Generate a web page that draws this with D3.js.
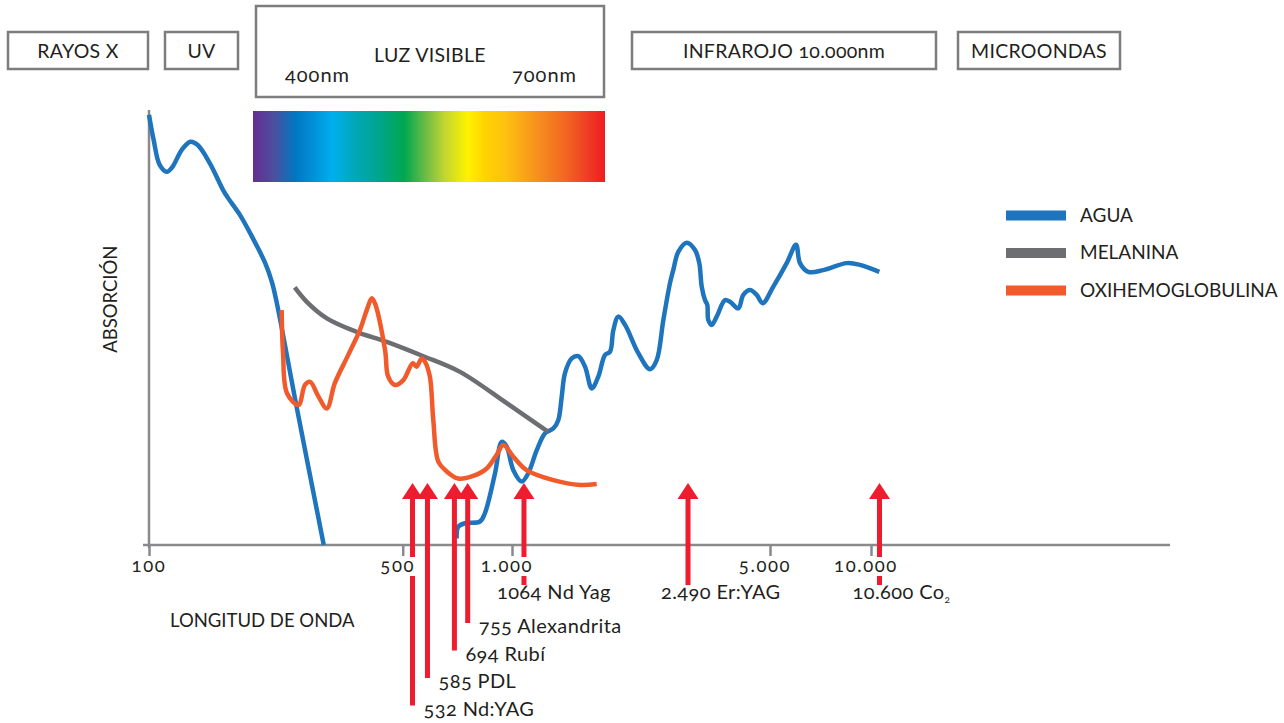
<!DOCTYPE html>
<html>
<head>
<meta charset="utf-8">
<script src="https://cdn.jsdelivr.net/npm/d3@7"></script>
<style>
  body { margin: 0; background: #fff; }
  svg text { font-family: Lato, "Open Sans", sans-serif; fill: #231f20; }
  .num { font-variant-numeric: oldstyle-nums; }
</style>
</head>
<body>
<div id="chart"></div>
<script>
// Bands of the electromagnetic spectrum shown as boxes on top
const bands = ["RAYOS X", "UV", "LUZ VISIBLE", "INFRAROJO 10.000nm", "MICROONDAS"];

// Absorption curves: [wavelength nm, relative absorption 0-100]
const aguaUV = [
  [100, 98.9], [103, 93.1], [107, 87.4], [112, 85.8], [116, 86.9], [123, 90.8],
  [130, 92.7], [136, 92.0], [147, 87.8], [160, 81.6], [165, 79.8], [178, 75.9],
  [193, 70.6], [209, 64.8], [218, 60.5], [225, 55.6], [255, 31.8], [303, 0]
];
const aguaIR = [
  [704, 1.5], [711, 4.2], [742, 5.0], [816, 5.4], [842, 7.3], [898, 16.5],
  [937, 23.7], [967, 22.6], [1007, 17.2], [1052, 14.6], [1088, 16.5], [1137, 21.8],
  [1187, 25.7], [1239, 26.8], [1271, 28.7], [1294, 34.1], [1316, 39.5], [1363, 42.9],
  [1410, 43.4], [1460, 41.0], [1512, 36.0], [1564, 38.7], [1620, 43.7], [1662, 44.4],
  [1691, 49.4], [1735, 52.5], [1797, 50.6], [1925, 44.1], [2045, 40.4], [2117, 42.5],
  [2191, 51.7], [2268, 60.2], [2307, 63.2], [2368, 67.4], [2474, 69.5], [2643, 67.8],
  [2741, 64.8], [2798, 59.4], [2877, 56.3], [2934, 55.2], [2959, 51.7], [3046, 50.6],
  [3178, 52.5], [3410, 56.3], [3558, 55.9], [3819, 54.4], [3985, 57.5], [4219, 58.6],
  [4466, 57.5], [4700, 55.6], [5115, 59.4], [5607, 64.8], [5977, 69.0], [6143, 64.8],
  [6503, 62.8], [7208, 63.2], [8465, 64.8], [9273, 64.4], [10587, 62.8]
];
const melanina = [
  [252, 59.2], [272, 55.9], [309, 52.1], [373, 49.0], [452, 46.7], [570, 43.4],
  [719, 39.8], [967, 32.6], [1207, 26.0]
];
const oxihemoglobina = [
  [232, 54.0], [234, 44.1], [240, 34.9], [258, 32.2], [269, 36.8], [278, 37.5],
  [293, 34.1], [309, 31.4], [325, 37.2], [354, 43.7], [381, 49.4], [398, 54.0],
  [411, 56.7], [419, 55.6], [447, 44.8], [456, 38.7], [476, 36.8], [502, 37.9],
  [533, 41.8], [546, 41.0], [564, 42.9], [576, 42.1], [594, 38.7], [607, 28.7],
  [627, 19.1], [661, 16.9], [711, 15.3], [782, 15.9], [852, 17.6], [907, 20.7],
  [946, 23.0], [1007, 20.3], [1079, 17.2], [1239, 14.9], [1423, 13.8], [1551, 14.0]
];

const seriesNames = ["AGUA", "MELANINA", "OXIHEMOGLOBULINA"];

// Lasers and their wavelengths
const laserNm = [532, 585, 694, 755, 1064, 2490, 10600];
const laserLabels = ["532 Nd:YAG", "585 PDL", "694 Rubí", "755 Alexandrita", "1064 Nd Yag", "2.490 Er:YAG", "10.600 Co"];
const laserSubs = ["", "", "", "", "", "", "2"];

// Axis
const tickValues = [100, 500, 1000, 5000, 10000];

class AbsorptionChart {
  constructor(_config) {
    this.config = {
      parentElement: _config.parentElement,
      containerWidth: 1284,
      containerHeight: 723,
      colors: ["#1f75bd", "#6d6e71", "#f15a2b"],
      laserColor: "#ed1c2e",
      axisColor: "#8a8a8c",
    };
    this.initVis();
  }

  initVis() {
    let vis = this;

    vis.svg = d3
      .select(vis.config.parentElement)
      .append("svg")
      .attr("width", vis.config.containerWidth)
      .attr("height", vis.config.containerHeight);

    // Wavelength axis is drawn schematically: log steps with its own spacing per decade
    vis.xScale = d3
      .scaleLog()
      .domain([100, 1000, 2490, 5000, 10000])
      .range([149, 512, 688, 770, 871]);

    vis.yScale = d3.scaleLinear().domain([0, 100]).range([545, 110]);

    // Spanish number format (1.000, 10.000)
    vis.format = d3
      .formatLocale({ decimal: ",", thousands: ".", grouping: [3], currency: ["", ""] })
      .format(",");

    vis.renderVis();
  }

  renderVis() {
    let vis = this;

    // Spectrum band boxes at the top
    const boxes = [
      { x0: 8, x1: 148, y0: 32, y1: 69 },
      { x0: 165, x1: 238, y0: 32, y1: 69 },
      { x0: 256, x1: 604, y0: 6, y1: 97 },
      { x0: 632, x1: 936, y0: 32, y1: 69 },
      { x0: 958, x1: 1120, y0: 32, y1: 69 },
    ];
    const boxGroups = vis.svg
      .selectAll(".band")
      .data(bands)
      .join("g")
      .attr("class", "band");
    boxGroups
      .append("rect")
      .attr("x", (d, i) => boxes[i].x0)
      .attr("y", (d, i) => boxes[i].y0)
      .attr("width", (d, i) => boxes[i].x1 - boxes[i].x0)
      .attr("height", (d, i) => boxes[i].y1 - boxes[i].y0)
      .attr("fill", "#fff")
      .attr("stroke", "#7d7d7f")
      .attr("stroke-width", 2.5);
    boxGroups
      .append("text")
      .attr("class", "num")
      .attr("x", (d, i) => (boxes[i].x0 + boxes[i].x1) / 2)
      .attr("y", (d, i) => (i === 2 ? 61.5 : 58))
      .attr("text-anchor", "middle")
      .style("font-size", "19.5px")
      .style("letter-spacing", "0.3px")
      .text((d) => d);

    // 400nm / 700nm marks inside the visible light box
    vis.svg
      .append("text")
      .attr("class", "num")
      .attr("x", 285)
      .attr("y", 82)
      .style("font-size", "20px")
      .style("letter-spacing", "1px")
      .text("400nm");
    vis.svg
      .append("text")
      .attr("class", "num")
      .attr("x", 577)
      .attr("y", 82)
      .attr("text-anchor", "end")
      .style("font-size", "20px")
      .style("letter-spacing", "1px")
      .text("700nm");

    // Colour strip of visible light
    const spectrumStops = [
      [0, "#662d91"], [0.06, "#4b4f9f"], [0.12, "#0077c0"], [0.17, "#0090d8"],
      [0.225, "#00aeef"], [0.29, "#00a8b8"], [0.36, "#00a48a"], [0.43, "#00a84f"],
      [0.49, "#6dbb45"], [0.545, "#c2d62f"], [0.61, "#fff200"], [0.66, "#ffd200"],
      [0.72, "#fdc010"], [0.8, "#f7941d"], [0.89, "#f26522"], [1, "#ed1c24"],
    ];
    const grad = vis.svg
      .append("defs")
      .append("linearGradient")
      .attr("id", "spectrum")
      .attr("x1", "0%")
      .attr("x2", "100%");
    grad
      .selectAll("stop")
      .data(spectrumStops)
      .join("stop")
      .attr("offset", (d) => d[0])
      .attr("stop-color", (d) => d[1]);
    vis.svg
      .append("rect")
      .attr("x", 253)
      .attr("y", 111)
      .attr("width", 352)
      .attr("height", 71)
      .attr("fill", "url(#spectrum)");

    // Axes lines
    vis.svg
      .append("line")
      .attr("x1", 143)
      .attr("x2", 1170)
      .attr("y1", vis.yScale(0))
      .attr("y2", vis.yScale(0))
      .attr("stroke", vis.config.axisColor)
      .attr("stroke-width", 2.5);
    vis.svg
      .append("line")
      .attr("x1", vis.xScale(100))
      .attr("x2", vis.xScale(100))
      .attr("y1", 110)
      .attr("y2", vis.yScale(0) + 3)
      .attr("stroke", vis.config.axisColor)
      .attr("stroke-width", 2.5);

    // Tick marks
    const xAxis = d3
      .axisBottom(vis.xScale)
      .tickValues(tickValues)
      .tickSize(11)
      .tickFormat("");
    const axisG = vis.svg
      .append("g")
      .attr("transform", `translate(0,${vis.yScale(0)})`)
      .call(xAxis);
    axisG.select(".domain").remove();
    axisG.selectAll(".tick line").attr("stroke", vis.config.axisColor).attr("stroke-width", 2.5);

    // Curves
    const line = d3
      .line()
      .x((d) => vis.xScale(d[0]))
      .y((d) => vis.yScale(d[1]))
      .curve(d3.curveCatmullRom.alpha(0.5));
    const curves = [
      [aguaUV, 0], [aguaIR, 0], [melanina, 1], [oxihemoglobina, 2],
    ];
    vis.svg
      .selectAll(".curve")
      .data(curves)
      .join("path")
      .attr("class", "curve")
      .attr("d", (d) => line(d[0]))
      .attr("fill", "none")
      .attr("stroke", (d) => vis.config.colors[d[1]])
      .attr("stroke-width", 4.5)
      .attr("stroke-linejoin", "round")
      .attr("stroke-linecap", "butt");

    // Laser arrows, labels of the crowded ones are stacked on rows
    const laserRow = [4, 3, 2, 1, 0, 0, 0];
    const tipY = 483;
    const headH = 16;
    const headW = 21;
    const shaftEnd = (r) => (r === 0 ? 585 : 623 + (r - 1) * 27.5);

    const lasers = vis.svg
      .selectAll(".laser")
      .data(laserNm)
      .join("g")
      .attr("class", "laser")
      .attr("transform", (d) => `translate(${vis.xScale(d)},0)`);
    lasers
      .append("rect")
      .attr("x", -2.5)
      .attr("y", tipY + headH - 1)
      .attr("width", 5)
      .attr("height", (d, i) => shaftEnd(laserRow[i]) - tipY - headH + 1)
      .attr("fill", vis.config.laserColor);
    lasers
      .append("path")
      .attr("d", `M0,${tipY}L${headW / 2},${tipY + headH}L${-headW / 2},${tipY + headH}Z`)
      .attr("fill", vis.config.laserColor);

    const laserText = lasers
      .append("text")
      .attr("class", "num")
      .attr("x", (d, i) => (laserRow[i] === 0 ? -27 : 11))
      .attr("y", (d, i) => (laserRow[i] === 0 ? 599 : shaftEnd(laserRow[i]) + 10))
      .style("font-size", "20px")
      .style("letter-spacing", "0.4px");
    laserText.append("tspan").text((d, i) => laserLabels[i]);
    laserText
      .append("tspan")
      .attr("dy", 4)
      .style("font-size", "10px")
      .text((d, i) => laserSubs[i]);

    // Tick labels with a white knockout above the arrows
    const tickLabels = vis.svg
      .selectAll(".tick-label")
      .data(tickValues)
      .join("g")
      .attr("class", "tick-label")
      .attr("transform", (d, i) => `translate(${vis.xScale(d) - (i === 0 ? 0 : 5)},0)`);
    tickLabels
      .append("text")
      .attr("class", "num")
      .attr("y", 572)
      .attr("text-anchor", "middle")
      .style("font-size", "18.5px")
      .style("letter-spacing", "1.6px")
      .text((d) => vis.format(d));
    tickLabels.each(function () {
      const g = d3.select(this);
      const bb = g.select("text").node().getBBox();
      g.insert("rect", "text")
        .attr("x", bb.x - 3)
        .attr("y", 557)
        .attr("width", bb.width + 6)
        .attr("height", 19)
        .attr("fill", "#fff");
    });

    // Axis titles
    vis.svg
      .append("text")
      .attr("x", 170)
      .attr("y", 627)
      .style("font-size", "18.5px")
      .text("LONGITUD DE ONDA");
    vis.svg
      .append("text")
      .attr("transform", `translate(117,${vis.yScale(56.5)}) rotate(-90)`)
      .attr("text-anchor", "middle")
      .style("font-size", "18.5px")
      .text("ABSORCIÓN");

    // Legend
    const legend = vis.svg
      .selectAll(".legend")
      .data(seriesNames)
      .join("g")
      .attr("class", "legend")
      .attr("transform", (d, i) => `translate(1006,${215.5 + i * 37.5})`);
    legend
      .append("rect")
      .attr("y", -5)
      .attr("width", 60)
      .attr("height", 10)
      .attr("fill", (d, i) => vis.config.colors[i]);
    legend
      .append("text")
      .attr("x", 74)
      .attr("y", 6)
      .style("font-size", "19px")
      .text((d) => d);
  }
}

new AbsorptionChart({ parentElement: "#chart" });
</script>
</body>
</html>
